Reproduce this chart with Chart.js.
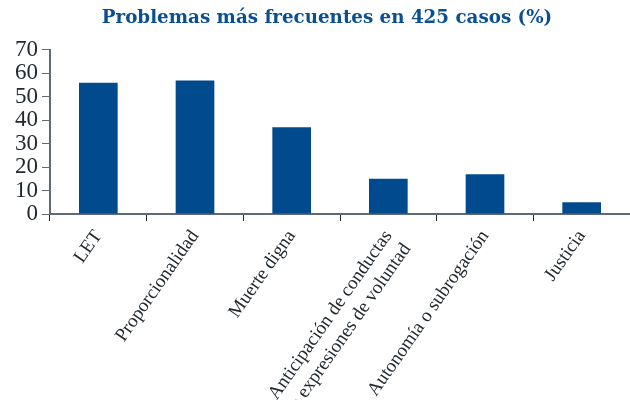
<!DOCTYPE html>
<html>
<head>
<meta charset="utf-8">
<script src="https://cdn.jsdelivr.net/npm/chart.js@4"></script>
<style>
html,body{margin:0;padding:0;background:#fff;}
#wrap{width:630px;height:400px;position:relative;}
</style>
</head>
<body>
<div id="wrap"><canvas id="c" width="630" height="400"></canvas></div>
<script>
const categories = ['LET', 'Proporcionalidad', 'Muerte digna', ['Anticipación de conductas', 'o expresiones de voluntad'], 'Autonomía o subrogación', 'Justicia'];
const values = [56, 57, 37, 15, 17, 5];
const yTicks = [0, 10, 20, 30, 40, 50, 60, 70];
const titleText = 'Problemas más frecuentes en 425 casos (%)';

const axisColor = '#5f6a72';
const textColor = '#222a30';

const shiftTitle = {
  id: 'shiftTitle',
  afterLayout(chart) {
    if (chart.titleBlock) { chart.titleBlock.left = 24; }
  }
};

new Chart(document.getElementById('c'), {
  type: 'bar',
  data: {
    labels: categories,
    datasets: [{
      data: values,
      backgroundColor: '#024a8e',
      borderWidth: 0,
      barPercentage: 0.4,
      categoryPercentage: 1.0
    }]
  },
  plugins: [shiftTitle],
  options: {
    responsive: false,
    animation: false,
    layout: { padding: { left: 0, right: 0, top: 0, bottom: 0 } },
    plugins: {
      legend: { display: false },
      tooltip: { enabled: false },
      title: {
        display: true,
        text: titleText,
        color: '#0a4f93',
        font: { family: 'DejaVu Serif', size: 18.3, weight: 'bold' },
        padding: { top: 7, bottom: 21 }
      }
    },
    scales: {
      x: {
        offset: true,
        border: { display: true, color: axisColor, width: 2 },
        grid: { display: true, offset: true, drawOnChartArea: false, drawTicks: true, tickLength: 7, color: textColor, lineWidth: 1 },
        ticks: {
          color: textColor,
          font: { family: 'Liberation Serif', size: 19 },
          minRotation: 55, maxRotation: 55,
          autoSkip: false,
          padding: 5
        },
        afterFit: (s) => { s.height = 186; }
      },
      y: {
        min: 0, max: 70,
        border: { display: true, color: axisColor, width: 2 },
        grid: { display: true, drawOnChartArea: false, drawTicks: true, tickLength: 8, color: axisColor },
        afterBuildTicks: (s) => { s.ticks = yTicks.map(v => ({ value: v })); },
        ticks: {
          color: textColor,
          font: { family: 'Liberation Serif', size: 23 },
          autoSkip: false,
          padding: 4
        },
        afterFit: (s) => { s.width = 50; }
      }
    }
  }
});
</script>
</body>
</html>
